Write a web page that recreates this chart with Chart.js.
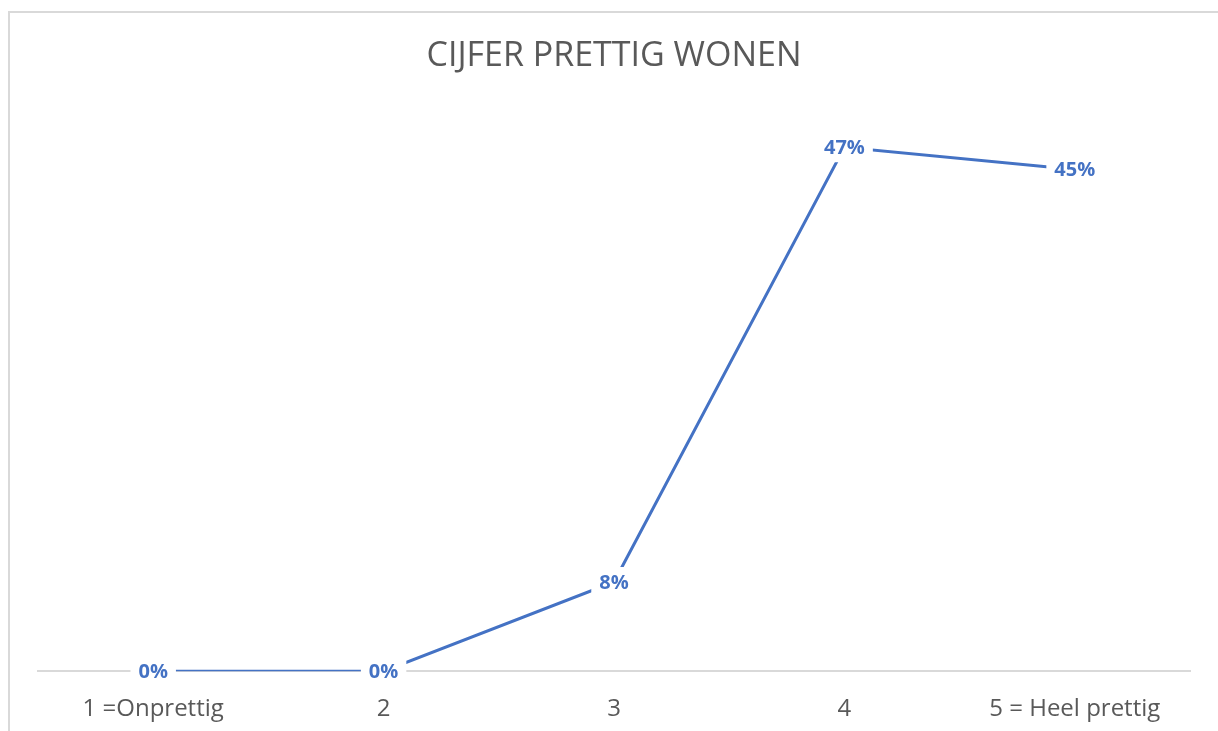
<!DOCTYPE html>
<html>
<head>
<meta charset="utf-8">
<script src="https://cdn.jsdelivr.net/npm/chart.js@4/dist/chart.umd.min.js"></script>
<style>
  html, body { margin: 0; padding: 0; background: #fff; overflow: hidden; }
  #wrap { position: relative; width: 1218px; height: 731px; overflow: hidden; }
  #frame { position: absolute; left: 8px; top: 11px; width: 1300px; height: 800px; border: 2px solid #d9d9d9; box-sizing: border-box; }
  canvas { position: absolute; left: 0; top: 0; }
</style>
</head>
<body>
<div id="wrap">
  <div id="frame"></div>
  <canvas id="c" width="1218" height="748"></canvas>
</div>
<script>
const titleText = "CIJFER PRETTIG WONEN";
const categories = ["1 =Onprettig", "2", "3", "4", "5 = Heel prettig"];
const values = [0, 0, 8, 47, 45];
const yMin = 0;
const yMax = 50;

const fontFamily = "'Open Sans', 'Lato', sans-serif";
const labelFont = "bold 20px " + fontFamily;
const lineColor = "#4472C4";

const dataLabelPlugin = {
  id: "dataLabels",
  afterDatasetsDraw(chart) {
    const ctx = chart.ctx;
    const meta = chart.getDatasetMeta(0);
    ctx.save();
    ctx.font = labelFont;
    ctx.textAlign = "center";
    ctx.textBaseline = "middle";
    meta.data.forEach((pt, i) => {
      const txt = values[i] + "%";
      const w = ctx.measureText(txt).width;
      const padX = 8, h = 30;
      ctx.fillStyle = "#ffffff";
      ctx.fillRect(pt.x - w / 2 - padX, pt.y - h / 2, w + padX * 2, h);
      ctx.fillStyle = lineColor;
      ctx.fillText(txt, pt.x, pt.y + 1);
    });
    ctx.restore();
  }
};

new Chart(document.getElementById("c"), {
  type: "line",
  data: {
    labels: categories,
    datasets: [{
      data: values,
      borderColor: lineColor,
      borderWidth: 3,
      pointRadius: 0,
      tension: 0,
      fill: false
    }]
  },
  options: {
    responsive: false,
    animation: false,
    layout: { padding: { left: 38, right: 28, top: 0, bottom: 0 } },
    plugins: {
      legend: { display: false },
      tooltip: { enabled: false },
      title: {
        display: true,
        text: titleText,
        color: "#595959",
        font: { family: fontFamily, size: 34, weight: "normal" },
        padding: { top: 36, bottom: 37 }
      }
    },
    scales: {
      x: {
        offset: true,
        grid: { display: false, drawTicks: false },
        border: { display: true, color: "#d9d9d9", width: 2 },
        ticks: {
          color: "#595959",
          padding: 24,
          font: { family: fontFamily, size: 24 }
        }
      },
      y: {
        display: false,
        min: yMin,
        max: yMax
      }
    }
  },
  plugins: [dataLabelPlugin]
});
</script>
</body>
</html>
